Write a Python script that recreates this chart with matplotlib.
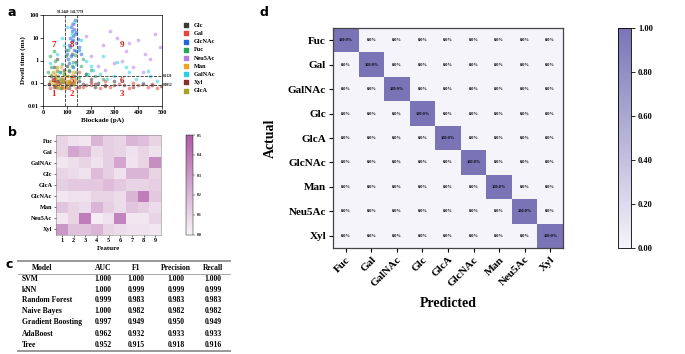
import numpy as np
import matplotlib
matplotlib.use("Agg")
import matplotlib.pyplot as plt
from matplotlib.colors import LinearSegmentedColormap
from matplotlib.ticker import FixedLocator, FixedFormatter

plt.rcParams['font.family'] = ['Liberation Serif', 'DejaVu Serif']
plt.rcParams['font.weight'] = 'bold'
plt.rcParams['axes.labelweight'] = 'bold'

# -----------------------
# Panel a: scatter (blockade pA, dwell ms), rough read of the cloud
# -----------------------
glc_x = [25, 40, 55, 70, 85, 100, 115, 130, 150, 170, 200, 230, 260, 300, 60, 90, 120, 45, 75, 140, 180, 220, 35, 65, 110]
glc_y = [0.09, 0.15, 0.07, 0.3, 0.11, 0.6, 0.08, 0.2, 0.12, 0.09, 0.15, 0.1, 0.08, 0.12, 1.2, 0.4, 2.0, 0.5, 0.06, 0.9, 0.25, 0.07, 0.2, 0.13, 0.35]
gal_x = [30, 50, 80, 110, 140, 170, 200, 240, 280, 320, 360, 400, 440, 480, 60, 95, 130, 260, 380, 460, 150, 90]
gal_y = [0.06, 0.08, 0.07, 0.09, 0.06, 0.07, 0.08, 0.06, 0.07, 0.09, 0.06, 0.08, 0.07, 0.06, 0.1, 0.065, 0.11, 0.12, 0.1, 0.09, 0.3, 0.15]
glcnac_x = [100, 110, 115, 120, 125, 130, 135, 140, 105, 118, 128, 138, 112, 122, 132, 145, 108, 126, 150, 95, 116, 134, 124, 140, 160]
glcnac_y = [2, 5, 10, 20, 8, 3, 15, 6, 1.2, 30, 12, 2.5, 4, 7, 25, 9, 0.8, 40, 4, 3, 1.5, 60, 0.5, 18, 2]
fuc_x = [20, 35, 50, 65, 80, 95, 110, 125, 140, 160, 180, 200, 45, 75, 105, 135, 170, 60, 90, 120, 150, 30, 220, 250]
fuc_y = [0.3, 0.5, 1.0, 0.2, 0.7, 1.5, 0.4, 0.9, 0.3, 0.6, 0.25, 0.4, 2.5, 0.15, 3, 1.8, 1.2, 0.35, 0.25, 0.55, 0.18, 1.5, 0.2, 0.15]
neu_x = [150, 200, 250, 300, 350, 400, 450, 490, 180, 230, 280, 330, 380, 430, 470, 120, 260, 360, 420, 310]
neu_y = [3, 1.5, 5, 0.8, 2.5, 8, 1.2, 4, 12, 0.6, 20, 1.0, 0.5, 2, 15, 40, 0.4, 6, 0.3, 10]
man_x = [40, 55, 70, 85, 100, 115, 130, 50, 65, 80, 95, 110, 125, 60, 90, 120, 75, 105]
man_y = [0.1, 0.15, 0.08, 0.12, 0.2, 0.09, 0.14, 0.25, 0.07, 0.18, 0.1, 0.13, 0.3, 0.4, 0.06, 0.22, 0.5, 0.11]
galnac_x = [30, 60, 90, 120, 150, 180, 210, 240, 270, 300, 330, 360, 390, 420, 450, 480, 100, 160, 200, 140, 80, 250, 350, 440, 190, 130, 70, 310]
galnac_y = [0.8, 2, 5, 15, 3, 1.0, 0.4, 0.25, 0.15, 0.2, 0.12, 0.3, 0.15, 0.1, 0.2, 0.13, 30, 8, 0.6, 0.7, 10, 1.5, 0.5, 0.35, 0.25, 50, 0.3, 0.9]
xyl_x = [25, 45, 70, 95, 120, 150, 180, 220, 260, 300, 340, 380, 420, 460, 495, 60, 110, 200]
xyl_y = [0.09, 0.07, 0.1, 0.08, 0.09, 0.07, 0.08, 0.09, 0.075, 0.08, 0.085, 0.07, 0.09, 0.08, 0.075, 0.12, 0.065, 0.11]
glca_x = [30, 45, 55, 60, 70, 80, 90, 100, 110, 120, 130, 40, 65, 85, 105, 125, 50, 75, 95, 115, 35, 140, 60, 90]
glca_y = [0.12, 0.08, 0.2, 0.1, 0.15, 0.07, 0.25, 0.12, 0.09, 0.18, 0.1, 0.3, 0.06, 0.14, 0.2, 0.08, 0.16, 0.11, 0.07, 0.13, 0.22, 0.15, 0.5, 0.35]

scatter_names = ["Glc", "Gal", "GlcNAc", "Fuc", "Neu5Ac", "Man", "GalNAc", "Xyl", "GlcA"]
scatter_colors = ["#3a3a3a", "#e8443a", "#2266dd", "#27a35c", "#b57ee8", "#f0a22a", "#2ccfe0", "#8b2e2e", "#a5a223"]
scatter_data = [(glc_x, glc_y), (gal_x, gal_y), (glcnac_x, glcnac_y), (fuc_x, fuc_y), (neu_x, neu_y),
                (man_x, man_y), (galnac_x, galnac_y), (xyl_x, xyl_y), (glca_x, glca_y)]

cut_x = [91.2449, 141.7778]
cut_y = [0.2121, 0.0852]
zone_x = [45, 120, 330]
zone_y = [0.035, 0.12, 5]
dwell_ticks = [0.01, 0.1, 1, 10, 100]
dwell_labels = ["0.01", "0.1", "1", "10", "100"]

# -----------------------
# Panel b: feature importance heatmap
# -----------------------
sugars = ["Fuc", "Gal", "GalNAc", "Glc", "GlcA", "GlcNAc", "Man", "Neu5Ac", "Xyl"]
features = [1, 2, 3, 4, 5, 6, 7, 8, 9]
feat_vals = [
    [0.10, 0.06, 0.04, 0.20, 0.12, 0.10, 0.20, 0.17, 0.10],
    [0.10, 0.25, 0.20, 0.08, 0.12, 0.10, 0.06, 0.10, 0.06],
    [0.04, 0.07, 0.10, 0.06, 0.12, 0.25, 0.05, 0.10, 0.33],
    [0.10, 0.08, 0.06, 0.18, 0.12, 0.06, 0.20, 0.20, 0.10],
    [0.12, 0.14, 0.14, 0.14, 0.18, 0.14, 0.10, 0.10, 0.12],
    [0.04, 0.06, 0.06, 0.10, 0.10, 0.08, 0.20, 0.38, 0.14],
    [0.15, 0.10, 0.08, 0.20, 0.12, 0.08, 0.15, 0.12, 0.08],
    [0.04, 0.10, 0.38, 0.02, 0.06, 0.36, 0.04, 0.04, 0.10],
    [0.30, 0.16, 0.16, 0.20, 0.10, 0.08, 0.06, 0.06, 0.04],
]

# -----------------------
# Panel c: model table
# -----------------------
tbl_header = ["Model", "AUC", "F1", "Precision", "Recall"]
tbl_models = ["SVM", "kNN", "Random Forest", "Naive Bayes", "Gradient Boosting", "AdaBoost", "Tree"]
tbl_auc = ["1.000", "1.000", "0.999", "1.000", "0.997", "0.962", "0.952"]
tbl_f1 = ["1.000", "0.999", "0.983", "0.982", "0.949", "0.932", "0.915"]
tbl_prec = ["1.000", "0.999", "0.983", "0.982", "0.950", "0.933", "0.918"]
tbl_rec = ["1.000", "0.999", "0.983", "0.982", "0.949", "0.933", "0.916"]

# -----------------------
# Panel d: confusion matrix (row = actual, col = predicted)
# -----------------------
conf_diag = [1.0, 1.0, 1.0, 1.0, 1.0, 1.0, 1.0, 1.0, 1.0]
conf = np.diag(conf_diag)

W, H = 685, 354
fig = plt.figure(figsize=(W / 100, H / 100), dpi=100)

def box(l, t, r, b):
    return [l / W, 1 - b / H, (r - l) / W, (b - t) / H]

def bold_ticks(a):
    for t in a.get_xticklabels() + a.get_yticklabels():
        t.set_fontweight('bold')

# ---- a ----
ax = fig.add_axes(box(43, 15, 162, 106))
handles = []
for name, col, (xs, ys) in zip(scatter_names, scatter_colors, scatter_data):
    ax.scatter(xs, ys, s=7, color=col, alpha=0.55, linewidths=0)
    handles.append(ax.scatter([], [], s=5, color=col, marker='s', label=name))
ax.set_yscale('log')
ax.set_xlim(0, 500)
ax.set_ylim(0.01, 100)
ax.yaxis.set_major_locator(FixedLocator(dwell_ticks))
ax.yaxis.set_major_formatter(FixedFormatter(dwell_labels))
ax.yaxis.set_minor_locator(FixedLocator([]))
for cx in cut_x:
    ax.axvline(cx, color='#333333', lw=0.6, ls='--')
for cy in cut_y:
    ax.axhline(cy, color='#333333', lw=0.6, ls='--')
n = 1
for zy in zone_y:
    for zx in zone_x:
        ax.text(zx, zy, str(n), color='#e02020', fontsize=6.5, ha='center', va='center', fontweight='bold')
        n += 1
ax.text(116, 115, "91.2449  141.7778", fontsize=2.5, ha='center', va='bottom')
ax.text(505, cut_y[0], "0.2121", fontsize=2.5, va='center', ha='left')
ax.text(505, cut_y[1], "0.0852", fontsize=2.5, va='center', ha='left')
ax.set_xticks([0, 100, 200, 300, 400, 500])
ax.tick_params(labelsize=4.5, length=2, width=0.5, pad=1)
bold_ticks(ax)
ax.set_xlabel("Blockade (pA)", fontsize=5, labelpad=1.5, fontweight='bold')
ax.set_ylabel("Dwell time (ms)", fontsize=5, labelpad=1, fontweight='bold')
for s in ax.spines.values():
    s.set_linewidth(0.5)
ax.legend(handles=handles, loc='upper left', bbox_to_anchor=(1.1, 0.98), frameon=False,
          prop={'size': 4.5, 'weight': 'bold'}, handletextpad=0.3, labelspacing=0.45, markerscale=1)

# ---- b ----
cmap_b = LinearSegmentedColormap.from_list("pk", ["#f8f3f7", "#ae5aa6"])
axb = fig.add_axes(box(56, 135, 161, 235))
imb = axb.imshow(np.array(feat_vals), cmap=cmap_b, vmin=0, vmax=0.5, aspect='auto')
axb.set_xticks(range(9))
axb.set_xticklabels([str(f) for f in features])
axb.set_yticks(range(9))
axb.set_yticklabels(sugars)
axb.tick_params(labelsize=4.5, length=1.5, width=0.4, pad=1)
bold_ticks(axb)
axb.set_xlabel("Feature", fontsize=5, labelpad=2, fontweight='bold')
for s in axb.spines.values():
    s.set_linewidth(0.4)
    s.set_color('#888888')
caxb = fig.add_axes(box(186, 135, 193, 235))
cbb = fig.colorbar(imb, cax=caxb, ticks=[0, 0.1, 0.2, 0.3, 0.4, 0.5])
cbb.ax.tick_params(labelsize=2.8, length=1.5, width=0.3, pad=1)
bold_ticks(cbb.ax)
cbb.outline.set_linewidth(0.3)

# ---- d ----
cmap_d = LinearSegmentedColormap.from_list("pu", ["#f5f4fa", "#7a74b7"])
axd = fig.add_axes(box(333, 28, 563, 248))
imd = axd.imshow(conf, cmap=cmap_d, vmin=0, vmax=1, aspect='auto')
for i in range(9):
    for j in range(9):
        axd.text(j, i, f"{conf[i, j] * 100:.1f}%", ha='center', va='center', fontsize=3.2, fontweight='bold')
axd.set_xticks(range(9))
axd.set_xticklabels(sugars, rotation=45, ha='right', rotation_mode='anchor')
axd.set_yticks(range(9))
axd.set_yticklabels(sugars)
axd.tick_params(labelsize=8, length=3, width=0.8, pad=2)
bold_ticks(axd)
axd.set_xlabel("Predicted", fontsize=10, labelpad=6, fontweight='bold')
axd.set_ylabel("Actual", fontsize=10, labelpad=8, fontweight='bold')
for s in axd.spines.values():
    s.set_linewidth(0.9)
    s.set_color('#444444')
caxd = fig.add_axes(box(618, 28, 631, 248))
cbd = fig.colorbar(imd, cax=caxd, ticks=[0, 0.2, 0.4, 0.6, 0.8, 1.0], format="%.2f")
cbd.ax.tick_params(labelsize=6, length=3, width=0.6, pad=2)
bold_ticks(cbd.ax)
cbd.outline.set_linewidth(0.6)

# ---- overlay: letters and table (pixel coordinates) ----
ov = fig.add_axes([0, 0, 1, 1])
ov.set_xlim(0, W)
ov.set_ylim(H, 0)
ov.axis('off')
for lab, lx, ly in [("a", 12, 12), ("b", 12, 133), ("c", 9, 264), ("d", 264, 13)]:
    ov.text(lx, ly, lab, fontsize=9, fontweight='bold', family='DejaVu Sans', ha='center', va='center')

ov.plot([18, 230], [261, 261], color='#999999', lw=1.4)
ov.plot([18, 230], [274, 274], color='#999999', lw=0.6)
ov.plot([18, 230], [351, 351], color='#999999', lw=1.4)
col_x = [42, 103, 136, 176, 213]
for cx, h in zip(col_x, tbl_header):
    ov.text(cx, 268, h, fontsize=5.5, ha='center', va='center', fontweight='bold')
row_y = [279, 289.5, 300, 311, 322.5, 334, 345]
for ry, m, a1, f1, p1, r1 in zip(row_y, tbl_models, tbl_auc, tbl_f1, tbl_prec, tbl_rec):
    ov.text(22, ry, m, fontsize=5.5, ha='left', va='center', fontweight='bold')
    for cx, v in zip(col_x[1:], [a1, f1, p1, r1]):
        ov.text(cx, ry, v, fontsize=5.5, ha='center', va='center', fontweight='bold')

fig.savefig("out.png", dpi=100)
